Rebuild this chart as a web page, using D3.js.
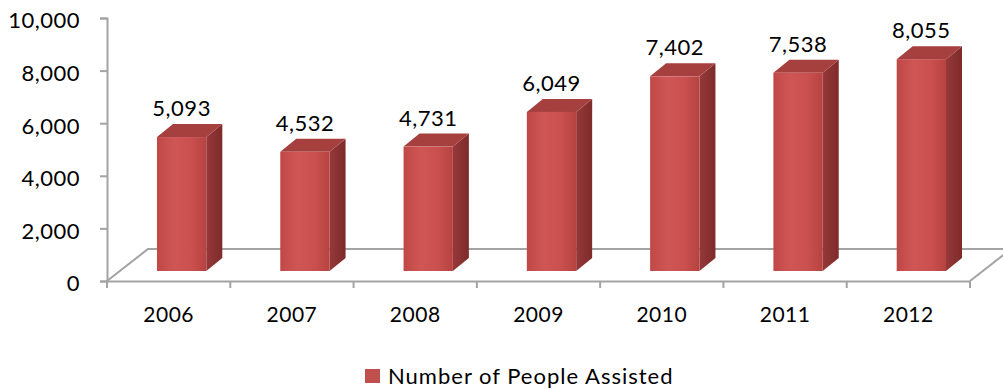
<!DOCTYPE html>
<html>
<head>
<meta charset="utf-8">
<script src="https://cdn.jsdelivr.net/npm/d3@7"></script>
<style>
  html, body { margin: 0; padding: 0; background: #fff; }
  svg { display: block; font-family: Lato, "Open Sans", sans-serif; }
</style>
</head>
<body>
<svg id="chart" width="1003" height="389"></svg>
<script>
// Chart data
const years = ["2006", "2007", "2008", "2009", "2010", "2011", "2012"];
const assisted = [5093, 4532, 4731, 6049, 7402, 7538, 8055];
const yTicks = [0, 2000, 4000, 6000, 8000, 10000];
const seriesName = "Number of People Assisted";

const svg = d3.select("#chart");
const fmt = d3.format(",");

// Plot geometry (3-D floor with depth offset)
const left = 107, right = 970, floorFront = 281, axisTop = 18;
const depthX = 41, depthY = 32;          // full floor depth
const barDX = 16, barDY = 13;            // bar depth
const barShiftX = 13, barBase = 271;     // bars sit part way into the floor

const x = d3.scaleBand().domain(years).range([left, right]).padding(0);
const y = d3.scaleLinear().domain([0, 10000]).range([floorFront, axisTop]);
const h = d3.scaleLinear().domain([0, 10000]).range([0, floorFront - axisTop]);

const gridColor = "#a3a3a3";

// Floor outline
svg.append("path")
  .attr("d", `M${left},${floorFront} L${left + depthX},${floorFront - depthY} L1003,${floorFront - depthY}`)
  .attr("fill", "none").attr("stroke", gridColor).attr("stroke-width", 2);
svg.append("path")
  .attr("d", `M${right},${floorFront} L${right + depthX},${floorFront - depthY}`)
  .attr("fill", "none").attr("stroke", gridColor).attr("stroke-width", 2);

// Value axis
const yAxis = svg.append("g").attr("transform", `translate(${left},0)`)
  .call(d3.axisLeft(y).tickValues(yTicks).tickFormat(fmt).tickSize(7).tickPadding(20));
yAxis.select(".domain").attr("stroke", gridColor).attr("stroke-width", 2);
yAxis.selectAll(".tick line").attr("stroke", gridColor).attr("stroke-width", 2);
yAxis.selectAll(".tick text").attr("font-size", 22).attr("fill", "#000")
  .attr("font-family", "Lato, 'Open Sans', sans-serif").attr("dy", "0.45em")
  .attr("letter-spacing", 0.5);

// Category axis
const xAxis = svg.append("g").attr("transform", `translate(0,${floorFront})`)
  .call(d3.axisBottom(x).tickSize(0).tickPadding(26));
xAxis.select(".domain").attr("stroke", gridColor).attr("stroke-width", 2);
xAxis.selectAll(".tick text").attr("font-size", 21).attr("fill", "#000")
  .attr("font-family", "Lato, 'Open Sans', sans-serif").attr("letter-spacing", 0.5);
// category boundary ticks
svg.append("g").selectAll("line")
  .data(d3.range(years.length + 1))
  .join("line")
  .attr("x1", i => left + i * x.step()).attr("x2", i => left + i * x.step())
  .attr("y1", floorFront).attr("y2", floorFront + 7)
  .attr("stroke", gridColor).attr("stroke-width", 2);

// Gradients
const defs = svg.append("defs");
const gFront = defs.append("linearGradient").attr("id", "front").attr("x1", 0).attr("x2", 1);
[[0, "#bf4846"], [0.35, "#cf5654"], [0.7, "#c9504e"], [1, "#b64341"]]
  .forEach(([o, c]) => gFront.append("stop").attr("offset", o).attr("stop-color", c));
const gSide = defs.append("linearGradient").attr("id", "side").attr("x1", 0).attr("x2", 1);
[[0, "#96383a"], [1, "#7e2b2a"]]
  .forEach(([o, c]) => gSide.append("stop").attr("offset", o).attr("stop-color", c));

const barW = x.bandwidth() * 0.4;
const data = years.map((yr, i) => ({ yr, v: assisted[i] }));

const bars = svg.append("g").selectAll("g").data(data).join("g");
bars.each(function (d) {
  const g = d3.select(this);
  const x0 = x(d.yr) + x.bandwidth() / 2 + barShiftX - barW / 2;
  const x1 = x0 + barW;
  const top = barBase - h(d.v);
  // side face
  g.append("path")
    .attr("d", `M${x1},${top} L${x1 + barDX},${top - barDY} L${x1 + barDX},${barBase - barDY} L${x1},${barBase} Z`)
    .attr("fill", "url(#side)");
  // top face
  g.append("path")
    .attr("d", `M${x0},${top} L${x0 + barDX},${top - barDY} L${x1 + barDX},${top - barDY} L${x1},${top} Z`)
    .attr("fill", "#a5403f");
  // front face
  g.append("rect")
    .attr("x", x0).attr("y", top).attr("width", barW).attr("height", h(d.v))
    .attr("fill", "url(#front)");
  // value label
  g.append("text")
    .attr("x", x0 + barW / 2).attr("y", top - barDY - 8)
    .attr("text-anchor", "middle").attr("font-size", 22).attr("fill", "#000")
    .attr("letter-spacing", 0.5)
    .text(fmt(d.v));
});

// Legend
const legend = svg.append("g");
legend.append("rect").attr("x", 365).attr("y", 369).attr("width", 15).attr("height", 14).attr("fill", "#c0504d");
legend.append("text").attr("x", 388).attr("y", 376).attr("dy", "0.36em")
  .attr("font-size", 22).attr("fill", "#000").attr("letter-spacing", 1)
  .text(seriesName);
</script>
</body>
</html>
